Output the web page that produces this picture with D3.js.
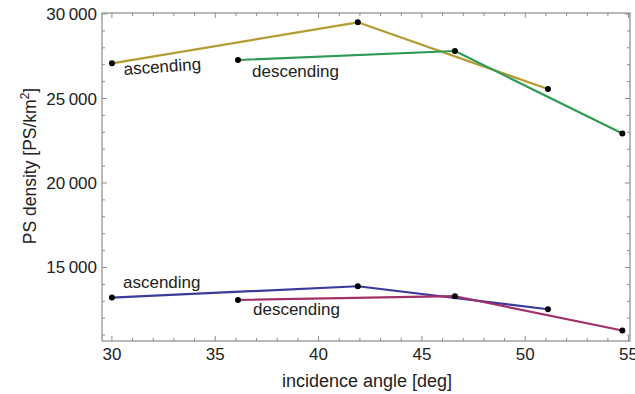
<!DOCTYPE html>
<html>
<head>
<meta charset="utf-8">
<script src="https://cdn.jsdelivr.net/npm/d3@7"></script>
<style>
  html, body { margin: 0; padding: 0; background: #fff; }
  svg { display: block; font-family: "Liberation Sans", Arial, sans-serif; }
</style>
</head>
<body>
<svg id="chart" width="635" height="394"></svg>
<script>
// Incidence angle (deg) of each acquisition track
const ascAngles = [30.0, 41.9, 51.1];
const descAngles = [36.1, 46.6, 54.7];

// PS density [PS/km^2] – dense (upper) and sparse (lower) result sets
const upperAscending = [27080, 29510, 25560];
const upperDescending = [27280, 27810, 22930];
const lowerAscending = [13220, 13890, 12530];
const lowerDescending = [13080, 13300, 11270];

const xMajorTicks = [30, 35, 40, 45, 50, 55];
const yMajorTicks = [15000, 20000, 25000, 30000];
const yTickLabels = ["15\u2009000", "20\u2009000", "25\u2009000", "30\u2009000"];

const seriesList = [
  { x: ascAngles, y: upperAscending, color: "#b39c32", label: "ascending", lx: 124, ly: 75, rot: -4 },
  { x: descAngles, y: upperDescending, color: "#2f9a55", label: "descending", lx: 252, ly: 77, rot: 0 },
  { x: ascAngles, y: lowerAscending, color: "#3b3b9c", label: "ascending", lx: 123, ly: 288, rot: 0 },
  { x: descAngles, y: lowerDescending, color: "#a3306b", label: "descending", lx: 253, ly: 315, rot: 0 }
];

const svg = d3.select("#chart");
const plotLeft = 102, plotRight = 630, plotTop = 13, plotBottom = 341;

const x = d3.scaleLinear().domain([29.52, 55.07]).range([plotLeft, plotRight]);
const y = d3.scaleLinear().domain([10650, 30060]).range([plotBottom, plotTop]);

const frameColor = "#8c8c8c";

// Frame
svg.append("rect")
  .attr("x", plotLeft).attr("y", plotTop)
  .attr("width", plotRight - plotLeft).attr("height", plotBottom - plotTop)
  .attr("fill", "none").attr("stroke", frameColor).attr("stroke-width", 1.2);

// Inward ticks on all four sides
const xMinor = d3.range(30, 56, 1);
const yMinor = d3.range(11000, 30001, 1000);
const tickG = svg.append("g").attr("stroke", frameColor).attr("stroke-width", 1);
xMinor.forEach(v => {
  const len = v % 5 === 0 ? 5 : 3;
  tickG.append("line").attr("x1", x(v)).attr("x2", x(v)).attr("y1", plotBottom).attr("y2", plotBottom - len);
  tickG.append("line").attr("x1", x(v)).attr("x2", x(v)).attr("y1", plotTop).attr("y2", plotTop + len);
});
yMinor.forEach(v => {
  const len = v % 5000 === 0 ? 5 : 3;
  tickG.append("line").attr("x1", plotLeft).attr("x2", plotLeft + len).attr("y1", y(v)).attr("y2", y(v));
  tickG.append("line").attr("x1", plotRight).attr("x2", plotRight - len).attr("y1", y(v)).attr("y2", y(v));
});

// Tick labels
svg.append("g").selectAll("text").data(xMajorTicks).join("text")
  .attr("x", d => x(d)).attr("y", 360)
  .attr("text-anchor", "middle").attr("font-size", 17).attr("fill", "#222")
  .text(d => d);

svg.append("g").selectAll("text").data(yMajorTicks).join("text")
  .attr("x", 97).attr("y", d => y(d) + 6)
  .attr("text-anchor", "end").attr("font-size", 17).attr("fill", "#222")
  .text((d, i) => yTickLabels[i]);

// Axis titles
svg.append("text")
  .attr("x", 367).attr("y", 387)
  .attr("text-anchor", "middle").attr("font-size", 18).attr("fill", "#222")
  .text("incidence angle [deg]");

const yTitle = svg.append("text")
  .attr("transform", "translate(36,166) rotate(-90)")
  .attr("text-anchor", "middle").attr("font-size", 17.5).attr("fill", "#222");
yTitle.append("tspan").text("PS density [PS/km");
yTitle.append("tspan").attr("font-size", 12).attr("dy", -7).text("2");
yTitle.append("tspan").attr("dy", 7).text("]");

// Series lines, points and labels
const line = d3.line().x(d => x(d[0])).y(d => y(d[1]));
seriesList.forEach(s => {
  const pts = s.x.map((v, i) => [v, s.y[i]]);
  svg.append("path").datum(pts)
    .attr("d", line).attr("fill", "none")
    .attr("stroke", s.color).attr("stroke-width", 2.2)
    .attr("stroke-linejoin", "round");
});
seriesList.forEach(s => {
  const pts = s.x.map((v, i) => [v, s.y[i]]);
  svg.append("g").selectAll("circle").data(pts).join("circle")
    .attr("cx", d => x(d[0])).attr("cy", d => y(d[1])).attr("r", 3)
    .attr("fill", "#000");
  svg.append("text")
    .attr("transform", `translate(${s.lx},${s.ly}) rotate(${s.rot})`)
    .attr("font-size", 17).attr("fill", "#222")
    .text(s.label);
});
</script>
</body>
</html>
